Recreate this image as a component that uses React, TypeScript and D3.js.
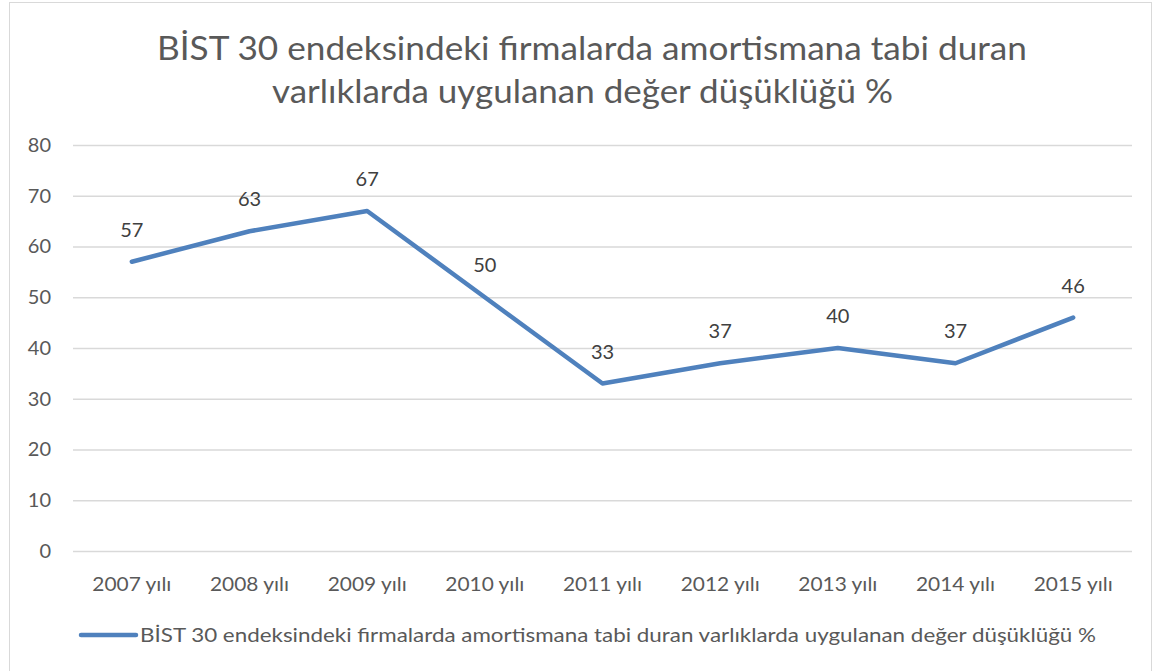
import React, { useEffect, useRef } from 'react';
import * as d3 from 'd3';

const years = ['2007 yılı', '2008 yılı', '2009 yılı', '2010 yılı', '2011 yılı', '2012 yılı', '2013 yılı', '2014 yılı', '2015 yılı'];
const values = [57, 63, 67, 50, 33, 37, 40, 37, 46];
const yTicks = [0, 10, 20, 30, 40, 50, 60, 70, 80];
const titleLines = ['BİST 30 endeksindeki firmalarda amortismana tabi duran', 'varlıklarda uygulanan değer düşüklüğü %'];
const seriesName = 'BİST 30 endeksindeki firmalarda amortismana tabi duran varlıklarda uygulanan değer düşüklüğü %';

export default function App() {
    const ref = useRef<SVGSVGElement>(null);

    useEffect(() => {
        const width = 1154;
        const height = 671;
        const margin = { top: 145, left: 73, bottom: 120, right: 22 };
        const iwidth = width - margin.left - margin.right;
        const iheight = height - margin.top - margin.bottom;
        const font = 'Lato, "Open Sans", sans-serif';

        const svg = d3.select(ref.current);
        svg.selectAll('*').remove();

        svg.append('rect')
            .attr('x', 9.5).attr('y', 2.5)
            .attr('width', width - 12).attr('height', height - 2)
            .attr('fill', 'white').attr('stroke', '#d9d9d9');

        // title, widths stretched to match the original's wider font
        const titleWidths = [870, 621];
        svg.append('g').selectAll('text').data(titleLines).enter().append('text')
            .attr('x', (d, i) => i === 0 ? 592 : 582.5)
            .attr('y', (d, i) => 60 + i * 43)
            .attr('text-anchor', 'middle')
            .attr('textLength', (d, i) => titleWidths[i])
            .attr('lengthAdjust', 'spacingAndGlyphs')
            .style('font-family', font)
            .style('font-size', '33px')
            .style('fill', '#595959')
            .text(d => d);

        const g = svg.append('g').attr('transform', `translate(${margin.left},${margin.top})`);

        const y = d3.scaleLinear().domain([0, 80]).range([iheight, 0]);
        const x = d3.scaleBand().domain(years).range([0, iwidth]);

        const yAxis = g.append('g')
            .call(d3.axisLeft(y).tickValues(yTicks).tickSize(-iwidth).tickPadding(22));
        yAxis.select('.domain').remove();
        yAxis.selectAll('line').attr('stroke', '#d9d9d9').attr('stroke-width', 1.3);
        yAxis.selectAll('text')
            .style('font-family', font).style('font-size', '20px').attr('fill', '#595959');

        const xAxis = g.append('g')
            .attr('transform', `translate(0,${iheight})`)
            .call(d3.axisBottom(x).tickSize(0).tickPadding(26));
        xAxis.select('.domain').remove();
        xAxis.selectAll('text')
            .attr('textLength', 79).attr('lengthAdjust', 'spacingAndGlyphs')
            .style('font-family', font).style('font-size', '20px').attr('fill', '#595959');

        const line = d3.line<number>()
            .x((d, i) => (x(years[i]) as number) + x.bandwidth() / 2)
            .y(d => y(d));

        g.append('path')
            .datum(values)
            .attr('d', line)
            .attr('fill', 'none')
            .attr('stroke', '#4f81bd')
            .attr('stroke-width', 4.5)
            .attr('stroke-linejoin', 'round')
            .attr('stroke-linecap', 'round');

        g.selectAll('.lbl').data(values).enter().append('text')
            .attr('class', 'lbl')
            .attr('x', (d, i) => (x(years[i]) as number) + x.bandwidth() / 2)
            .attr('y', d => y(d) - 25)
            .attr('text-anchor', 'middle')
            .style('font-family', font).style('font-size', '20px').style('fill', '#404040')
            .text(d => d);

        const legend = svg.append('g').attr('transform', 'translate(81,635)');
        legend.append('line')
            .attr('x1', 0).attr('x2', 55).attr('y1', 0).attr('y2', 0)
            .attr('stroke', '#4f81bd').attr('stroke-width', 4.5).attr('stroke-linecap', 'round');
        legend.append('text')
            .attr('x', 59).attr('y', 7)
            .attr('textLength', 956).attr('lengthAdjust', 'spacingAndGlyphs')
            .style('font-family', font).style('font-size', '20px').style('fill', '#595959')
            .text(seriesName);
    }, []);

    return (
        <svg ref={ref} width={1154} height={671} style={{ position: 'absolute', left: 0, top: 0 }}></svg>
    );
}
